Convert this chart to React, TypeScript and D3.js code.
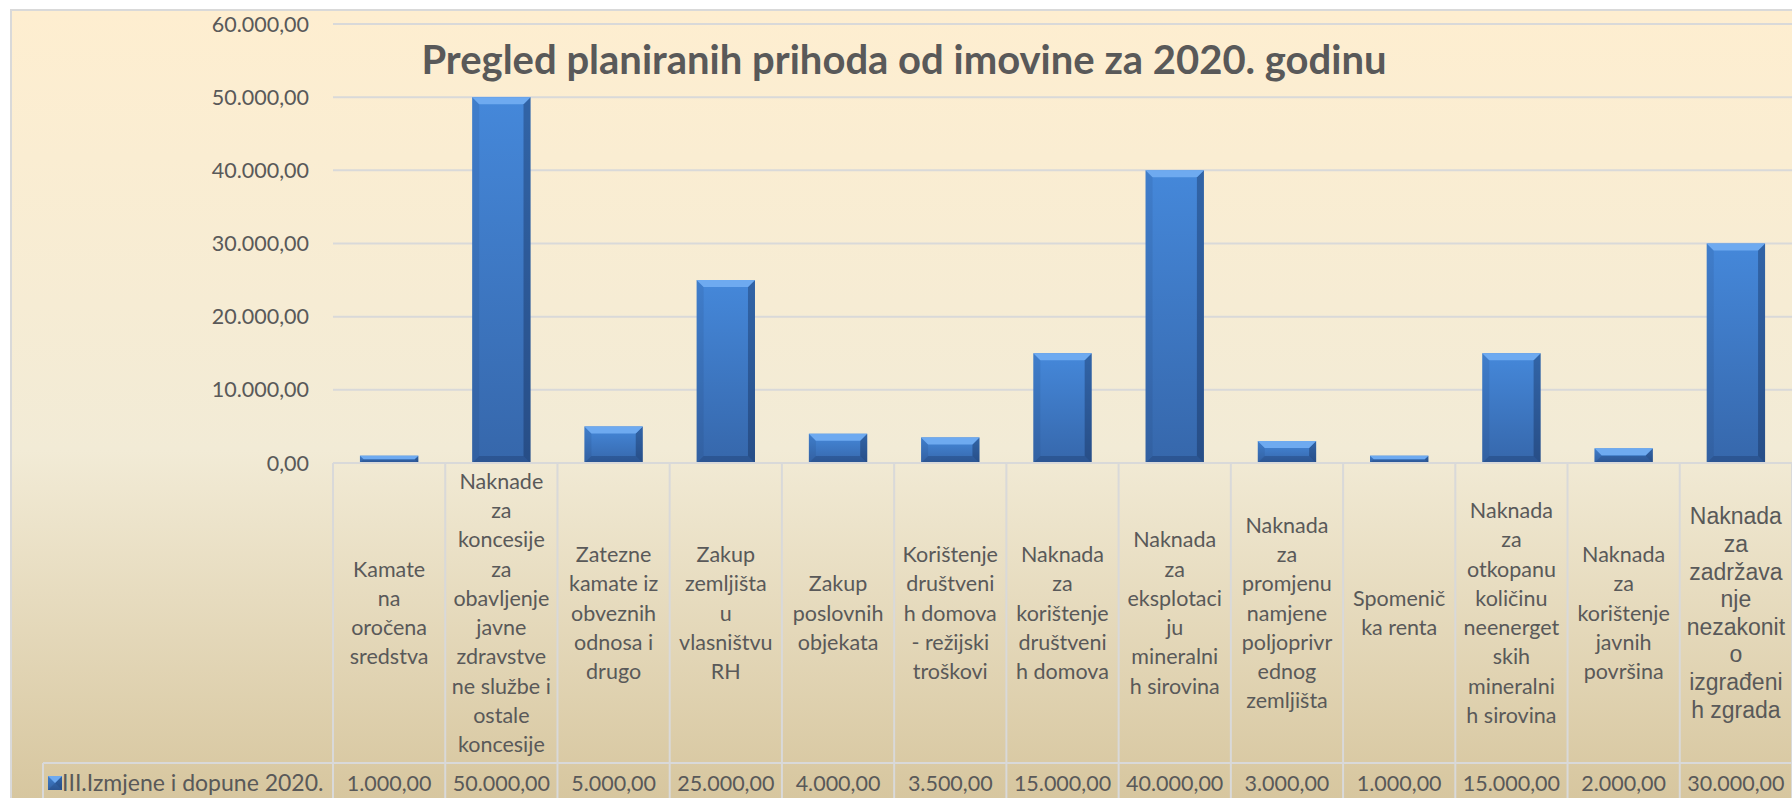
import { useEffect, useRef } from 'react';
import * as d3 from 'd3';

const title = 'Pregled planiranih prihoda od imovine za 2020. godinu';
const seriesName = 'III.Izmjene i dopune 2020.';

// category labels, wrapped the way they appear in the table header
const categoryLines = [
  ['Kamate', 'na', 'oročena', 'sredstva'],
  ['Naknade', 'za', 'koncesije', 'za', 'obavljenje', 'javne', 'zdravstve', 'ne službe i', 'ostale', 'koncesije'],
  ['Zatezne', 'kamate iz', 'obveznih', 'odnosa i', 'drugo'],
  ['Zakup', 'zemljišta', 'u', 'vlasništvu', 'RH'],
  ['Zakup', 'poslovnih', 'objekata'],
  ['Korištenje', 'društveni', 'h domova', '- režijski', 'troškovi'],
  ['Naknada', 'za', 'korištenje', 'društveni', 'h domova'],
  ['Naknada', 'za', 'eksplotaci', 'ju', 'mineralni', 'h sirovina'],
  ['Naknada', 'za', 'promjenu', 'namjene', 'poljoprivr', 'ednog', 'zemljišta'],
  ['Spomenič', 'ka renta'],
  ['Naknada', 'za', 'otkopanu', 'količinu', 'neenerget', 'skih', 'mineralni', 'h sirovina'],
  ['Naknada', 'za', 'korištenje', 'javnih', 'površina'],
  ['Naknada', 'za', 'zadržava', 'nje', 'nezakonit', 'o', 'izgrađeni', 'h zgrada'],
];

const values = [1000, 50000, 5000, 25000, 4000, 3500, 15000, 40000, 3000, 1000, 15000, 2000, 30000];

const yTicks = [0, 10000, 20000, 30000, 40000, 50000, 60000];

export default function App() {
  const svgRef = useRef<SVGSVGElement>(null);

  useEffect(() => {
    if (!svgRef.current) return;
    const svg = d3.select(svgRef.current);
    svg.selectAll('*').remove();

    const W = 1792;
    const H = 798;
    const plotLeft = 333;
    const plotTop = 24;
    const plotBottom = 463;
    const headerBottom = 763;
    const rowMid = 783;
    const textColor = '#595959';
    const lineColor = '#d9d9d9';
    const font = 'Lato, "Open Sans", sans-serif';

    const locale = d3.formatLocale({ decimal: ',', thousands: '.', grouping: [3], currency: ['', ''] });
    const fmt = locale.format(',.2f');

    const idx = d3.range(values.length);
    const xCol = d3.scaleBand<number>().domain(idx).range([plotLeft, W]);
    const x = d3.scaleBand<number>().domain(idx).range([plotLeft, W]).paddingInner(0.48).paddingOuter(0.24);
    const y = d3.scaleLinear().domain([0, 60000]).range([plotBottom, plotTop]);

    const defs = svg.append('defs');
    const bg = defs.append('linearGradient').attr('id', 'bg')
      .attr('gradientUnits', 'userSpaceOnUse')
      .attr('x1', 0).attr('y1', 10).attr('x2', 0).attr('y2', 810);
    bg.append('stop').attr('offset', '0%').attr('stop-color', '#feeed0');
    bg.append('stop').attr('offset', '55%').attr('stop-color', '#f2ebd6');
    bg.append('stop').attr('offset', '100%').attr('stop-color', '#d6c59d');

    const bar = defs.append('linearGradient').attr('id', 'bar')
      .attr('x1', 0).attr('y1', 0).attr('x2', 0).attr('y2', 1);
    bar.append('stop').attr('offset', '0%').attr('stop-color', '#4588da');
    bar.append('stop').attr('offset', '100%').attr('stop-color', '#3667ab');

    svg.append('rect').attr('width', W).attr('height', H).attr('fill', '#ffffff');
    svg.append('rect')
      .attr('x', 11).attr('y', 10).attr('width', W + 20).attr('height', H + 20)
      .attr('fill', 'url(#bg)').attr('stroke', lineColor).attr('stroke-width', 2);

    // gridlines + y labels
    svg.append('g').selectAll('line').data(yTicks).enter().append('line')
      .attr('x1', plotLeft).attr('x2', W)
      .attr('y1', d => y(d)).attr('y2', d => y(d))
      .attr('stroke', lineColor).attr('stroke-width', 2);

    svg.append('g').selectAll('text').data(yTicks).enter().append('text')
      .attr('x', 309).attr('y', d => y(d))
      .attr('dy', '0.35em')
      .attr('text-anchor', 'end')
      .attr('font-family', font).attr('font-size', 21.5)
      .attr('fill', textColor)
      .text(d => fmt(d));

    // bevelled bars
    const drawBar = (g: any, bx: number, by: number, bw: number, bh: number) => {
      const b = Math.min(7, bh / 2);
      g.append('rect').attr('x', bx).attr('y', by).attr('width', bw).attr('height', bh).attr('fill', 'url(#bar)');
      const poly = (pts: number[][], fill: string) =>
        g.append('polygon').attr('points', pts.map(p => p.join(',')).join(' ')).attr('fill', fill);
      poly([[bx, by], [bx + b, by + b], [bx + b, by + bh - b], [bx, by + bh]], 'rgba(20,40,80,0.1)');
      poly([[bx + bw, by], [bx + bw - b, by + b], [bx + bw - b, by + bh - b], [bx + bw, by + bh]], 'rgba(10,25,60,0.32)');
      poly([[bx, by + bh], [bx + b, by + bh - b], [bx + bw - b, by + bh - b], [bx + bw, by + bh]], 'rgba(10,25,60,0.22)');
      poly([[bx, by], [bx + bw, by], [bx + bw - b, by + b], [bx + b, by + b]], '#6eaaf0');
    };

    const bars = svg.append('g');
    values.forEach((v, i) => {
      const g = bars.append('g');
      drawBar(g, x(i)!, y(v), x.bandwidth(), plotBottom - y(v));
    });

    // data table
    const table = svg.append('g').attr('stroke', lineColor).attr('stroke-width', 2);
    table.append('line').attr('x1', plotLeft).attr('x2', W).attr('y1', plotBottom).attr('y2', plotBottom);
    table.append('line').attr('x1', 43).attr('x2', W).attr('y1', headerBottom).attr('y2', headerBottom);
    table.append('line').attr('x1', 43).attr('x2', 43).attr('y1', headerBottom).attr('y2', H);
    table.selectAll('line.col').data([...idx, values.length]).enter().append('line')
      .attr('class', 'col')
      .attr('x1', d => (d < values.length ? xCol(d)! : W)).attr('x2', d => (d < values.length ? xCol(d)! : W))
      .attr('y1', plotBottom).attr('y2', H);

    const headerMid = (plotBottom + headerBottom) / 2;
    categoryLines.forEach((lines, i) => {
      const last = i === categoryLines.length - 1;
      const lh = last ? 27.6 : 29.3;
      const t = svg.append('text')
        .attr('text-anchor', 'middle')
        .attr('font-family', last ? '"Liberation Sans", Arial, sans-serif' : font)
        .attr('font-size', last ? 23 : 21.5)
        .attr('fill', textColor);
      lines.forEach((ln, k) => {
        t.append('tspan')
          .attr('x', xCol(i)! + xCol.bandwidth() / 2)
          .attr('y', headerMid + (k - (lines.length - 1) / 2) * lh)
          .attr('dy', '0.35em')
          .text(ln);
      });
    });

    svg.append('g').selectAll('text').data(values).enter().append('text')
      .attr('x', (d, i) => xCol(i)! + xCol.bandwidth() / 2)
      .attr('y', rowMid).attr('dy', '0.35em')
      .attr('text-anchor', 'middle')
      .attr('font-family', font).attr('font-size', 21.5)
      .attr('fill', textColor)
      .text(d => fmt(d));

    // legend key in the data row
    drawBar(svg.append('g'), 48, 776, 14, 14);
    svg.append('text')
      .attr('x', 62).attr('y', rowMid).attr('dy', '0.35em')
      .attr('font-family', font).attr('font-size', 23)
      .attr('fill', textColor)
      .text(seriesName);

    svg.append('text')
      .attr('x', 904).attr('y', 74)
      .attr('text-anchor', 'middle')
      .attr('font-family', font).attr('font-weight', 'bold').attr('font-size', 40)
      .attr('fill', textColor)
      .text(title);
  }, []);

  return (
    <svg ref={svgRef} width={1792} height={798}
      style={{ position: 'absolute', left: 0, top: 0, display: 'block' }} />
  );
}
